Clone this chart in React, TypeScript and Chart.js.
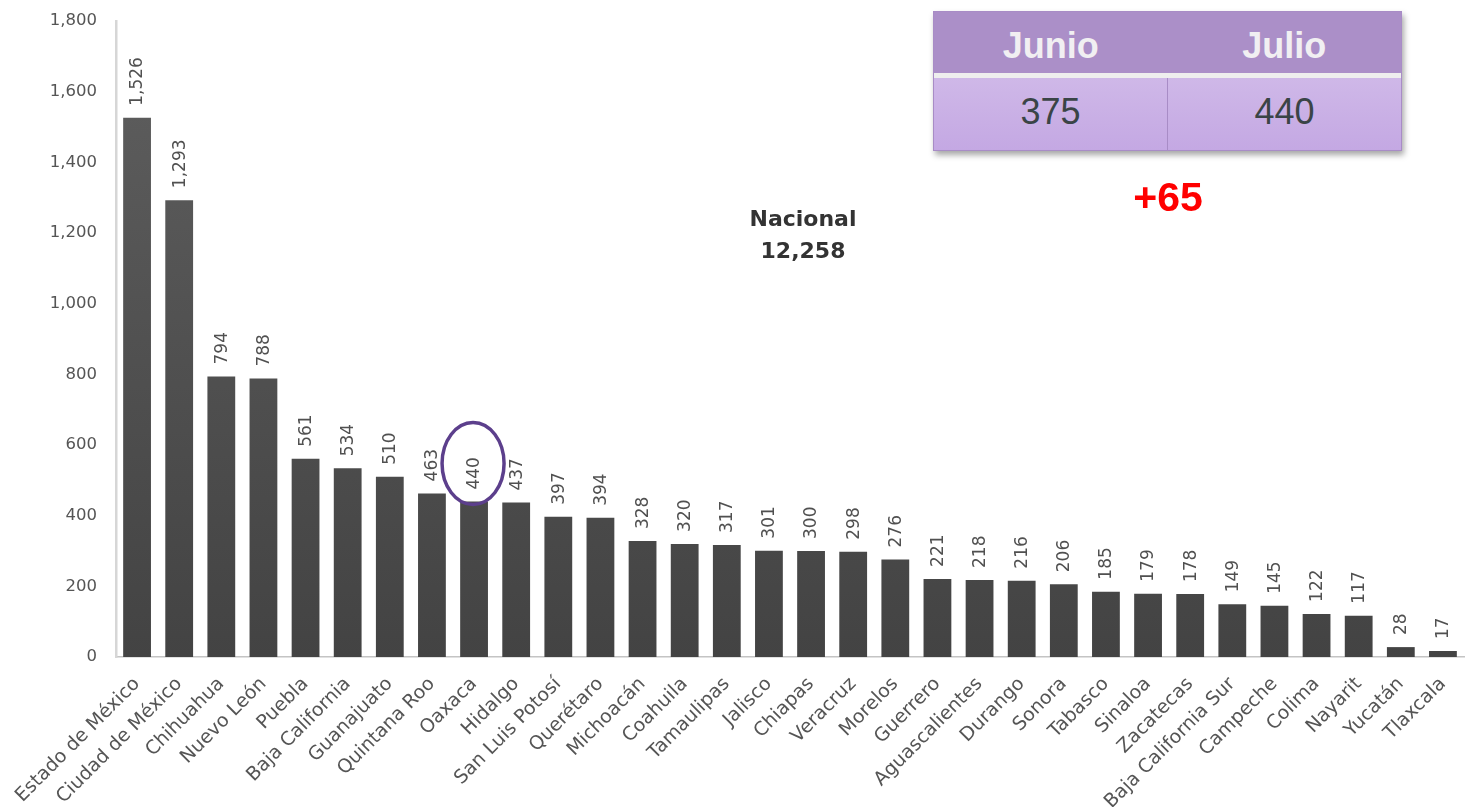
import React, { useEffect, useRef } from 'react';
import { Chart, registerables } from 'chart.js';

Chart.register(...registerables);

const states = [
  'Estado de México', 'Ciudad de México', 'Chihuahua', 'Nuevo León', 'Puebla',
  'Baja California', 'Guanajuato', 'Quintana Roo', 'Oaxaca', 'Hidalgo',
  'San Luis Potosí', 'Querétaro', 'Michoacán', 'Coahuila', 'Tamaulipas',
  'Jalisco', 'Chiapas', 'Veracruz', 'Morelos', 'Guerrero', 'Aguascalientes',
  'Durango', 'Sonora', 'Tabasco', 'Sinaloa', 'Zacatecas', 'Baja California Sur',
  'Campeche', 'Colima', 'Nayarit', 'Yucatán', 'Tlaxcala',
];

const values = [
  1526, 1293, 794, 788, 561, 534, 510, 463, 440, 437, 397, 394, 328, 320, 317,
  301, 300, 298, 276, 221, 218, 216, 206, 185, 179, 178, 149, 145, 122, 117, 28, 17,
];

const yTickValues = [0, 200, 400, 600, 800, 1000, 1200, 1400, 1600, 1800];

const highlightState = 'Oaxaca';
const nationalLabel = 'Nacional';
const nationalTotal = 12258;

const tableHeaders = ['Junio', 'Julio'];
const tableValues = [375, 440];
const changeLabel = '+65';

const FONT = '"DejaVu Sans", sans-serif';
const fmt = (v: number) => v.toLocaleString('en-US');

const labelPlugin = {
  id: 'valueLabels',
  afterDatasetsDraw(chart: any) {
    const ctx = chart.ctx;
    const meta = chart.getDatasetMeta(0);
    ctx.save();
    ctx.font = `17px ${FONT}`;
    ctx.fillStyle = '#505050';
    ctx.textAlign = 'left';
    ctx.textBaseline = 'middle';
    meta.data.forEach((bar: any, i: number) => {
      ctx.save();
      ctx.translate(bar.x + 1, bar.y - 12);
      ctx.rotate(-Math.PI / 2);
      ctx.fillText(fmt(values[i]), 0, 0);
      ctx.restore();
    });
    // highlight ellipse
    const hi = states.indexOf(highlightState);
    if (hi >= 0) {
      const bar: any = meta.data[hi];
      ctx.beginPath();
      ctx.ellipse(bar.x - 1, bar.y - 38, 31, 41, 0, 0, Math.PI * 2);
      ctx.strokeStyle = '#5c3f8c';
      ctx.lineWidth = 3.5;
      ctx.stroke();
    }
    // national total
    ctx.fillStyle = '#333333';
    ctx.font = `bold 22px ${FONT}`;
    ctx.textAlign = 'center';
    ctx.fillText(nationalLabel, 803, 220);
    ctx.fillText(fmt(nationalTotal), 803, 252);
    ctx.restore();
  },
};

export default function App() {
  const ref = useRef<HTMLCanvasElement>(null);

  useEffect(() => {
    if (!ref.current) return;
    const chart = new Chart(ref.current, {
      type: 'bar',
      data: {
        labels: states,
        datasets: [
          {
            data: values,
            backgroundColor: (c: any) => {
              const area = c.chart.chartArea;
              if (!area) return '#555';
              const g = c.chart.ctx.createLinearGradient(0, area.top, 0, area.bottom);
              g.addColorStop(0, '#5f5f5f');
              g.addColorStop(1, '#434343');
              return g;
            },
            categoryPercentage: 1,
            barPercentage: 0.66,
          },
        ],
      },
      options: {
        animation: false,
        responsive: false,
        devicePixelRatio: 1,
        layout: { padding: { left: 0, right: 4, top: 21, bottom: 0 } },
        plugins: { legend: { display: false }, tooltip: { enabled: false } },
        scales: {
          x: {
            grid: { display: false, drawTicks: false },
            border: { display: true, color: '#c4c4c4', width: 1.5 },
            ticks: {
              autoSkip: false,
              minRotation: 45,
              maxRotation: 45,
              padding: 16,
              color: '#555',
              font: { family: FONT, size: 19 },
            },
            afterFit: (s: any) => {
              s.height = 150;
              s.paddingRight = 0;
              s.paddingLeft = 0;
            },
          },
          y: {
            min: 0,
            max: 1800,
            grid: { display: false, drawTicks: true, tickLength: 16 },
            border: { display: true, color: '#d6d6d6', width: 2.5 },
            afterBuildTicks: (s: any) => { s.ticks = yTickValues.map((v) => ({ value: v })); },
            ticks: {
              padding: 3,
              color: '#555',
              font: { family: FONT, size: 16.5 },
              callback: (v: any) => fmt(Number(v)),
            },
            afterFit: (s: any) => { s.width = 116; },
          },
        },
      },
      plugins: [labelPlugin],
    });
    return () => chart.destroy();
  }, []);

  const cellBase: React.CSSProperties = {
    flex: 1,
    display: 'flex',
    alignItems: 'center',
    justifyContent: 'center',
    fontFamily: '"Liberation Sans", Arial, sans-serif',
  };

  return (
    <div style={{ position: 'fixed', left: 0, top: 0, width: 1468, height: 807, background: '#fff' }}>
      <canvas ref={ref} width={1468} height={807} style={{ display: 'block' }} />
      <div
        style={{
          position: 'absolute', left: 933, top: 11, width: 469, height: 140,
          border: '1.5px solid #a88cc6', boxSizing: 'border-box',
          boxShadow: '2px 4px 6px rgba(0,0,0,0.35)', display: 'flex', flexDirection: 'column',
        }}
      >
        <div style={{ height: 61, background: '#ab8fc8', display: 'flex', paddingTop: 6, boxSizing: 'border-box' }}>
          {tableHeaders.map((h) => (
            <div key={h} style={{ ...cellBase, color: '#f1eff2', fontWeight: 'bold', fontSize: 36 }}>{h}</div>
          ))}
        </div>
        <div style={{ height: 5, background: '#eeeeee' }} />
        <div style={{ flex: 1, background: 'linear-gradient(#cfb8e8, #c4a8e3)', display: 'flex' }}>
          {tableValues.map((v, i) => (
            <div
              key={i}
              style={{
                ...cellBase, color: '#3a4446', fontSize: 36, paddingBottom: 4,
                borderLeft: i > 0 ? '1.5px solid #a88cc6' : 'none',
              }}
            >
              {fmt(v)}
            </div>
          ))}
        </div>
      </div>
      <div
        style={{
          position: 'absolute', left: 1068, top: 172, width: 200, textAlign: 'center',
          color: '#ff0000', fontWeight: 'bold', fontSize: 41, lineHeight: '50px',
          fontFamily: '"Liberation Sans", Arial, sans-serif',
        }}
      >
        {changeLabel}
      </div>
    </div>
  );
}
